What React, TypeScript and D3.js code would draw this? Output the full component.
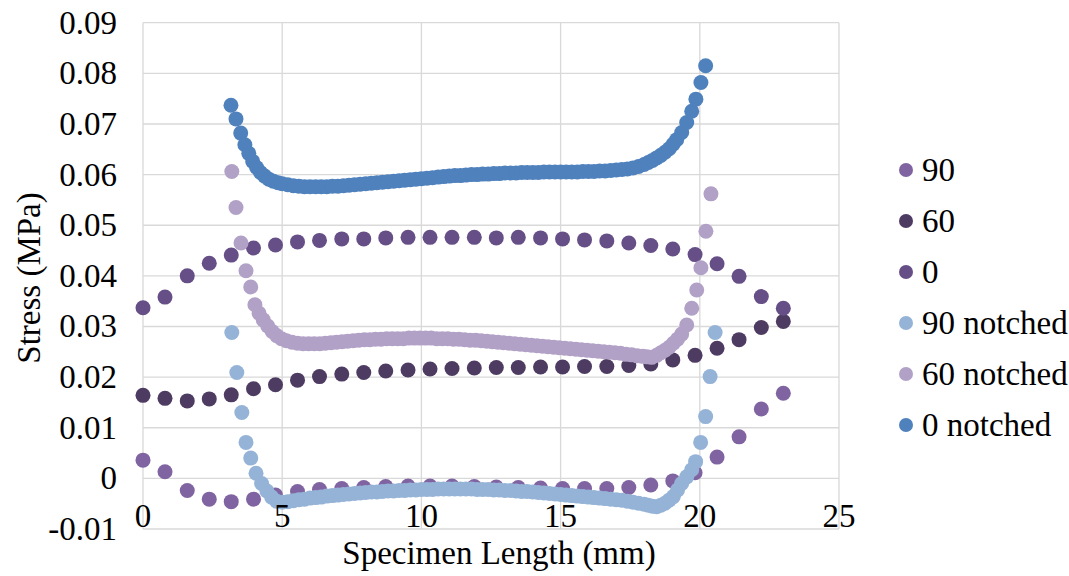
import React from "react";
import * as d3 from "d3";

// Shared x positions of the three un-notched series (mm)
const xPlain = [0, 0.79, 1.59, 2.38, 3.17, 3.97, 4.76, 5.55, 6.34, 7.14, 7.93, 8.72, 9.52, 10.31, 11.1, 11.9, 12.69, 13.48, 14.28, 15.07, 15.86, 16.66, 17.45, 18.24, 19.03, 19.83, 20.62, 21.41, 22.21, 23.0];

const s90 = [0.0036, 0.0013, -0.0024, -0.0041, -0.0046, -0.0041, -0.0033, -0.0026, -0.0022, -0.002, -0.0018, -0.0016, -0.0015, -0.0015, -0.0015, -0.0016, -0.0017, -0.0018, -0.0019, -0.002, -0.002, -0.002, -0.0018, -0.0013, -0.0005, 0.0011, 0.0042, 0.0082, 0.0137, 0.0168];
const s60 = [0.0164, 0.0158, 0.0153, 0.0157, 0.0165, 0.0177, 0.0185, 0.0194, 0.0201, 0.0206, 0.0209, 0.0212, 0.0214, 0.0216, 0.0217, 0.0218, 0.0219, 0.0219, 0.022, 0.022, 0.0221, 0.0221, 0.0223, 0.0226, 0.0234, 0.0243, 0.0257, 0.0274, 0.0298, 0.031];
const s0 = [0.0337, 0.0358, 0.04, 0.0425, 0.0441, 0.0455, 0.0461, 0.0467, 0.047, 0.0473, 0.0473, 0.0475, 0.0476, 0.0476, 0.0476, 0.0476, 0.0475, 0.0476, 0.0475, 0.0473, 0.0471, 0.0469, 0.0465, 0.046, 0.0453, 0.0442, 0.0424, 0.0399, 0.0359, 0.0336];

const n90: [number, number][] = [[3.19,0.0288],[3.37,0.0209],[3.55,0.013],[3.7,0.0071],[3.87,0.004],[4.06,0.001],[4.26,-0.001],[4.45,-0.0025],[4.62,-0.0037],[4.8,-0.0045],[5.0,-0.0047],[5.2,-0.0046],[5.4,-0.0044],[5.6,-0.0042],[5.8,-0.0041],[6.0,-0.0039],[6.2,-0.0038],[6.4,-0.0037],[6.6,-0.0035],[6.8,-0.0034],[7.0,-0.0033],[7.2,-0.0032],[7.4,-0.0031],[7.6,-0.003],[7.8,-0.0029],[8.0,-0.0028],[8.2,-0.0027],[8.4,-0.0027],[8.6,-0.0026],[8.8,-0.0025],[9.0,-0.0025],[9.2,-0.0024],[9.4,-0.0024],[9.6,-0.0023],[9.8,-0.0023],[10.0,-0.0022],[10.2,-0.0022],[10.4,-0.0022],[10.6,-0.0021],[10.8,-0.0021],[11.0,-0.0021],[11.2,-0.0021],[11.4,-0.0021],[11.6,-0.0021],[11.8,-0.0021],[12.0,-0.0022],[12.2,-0.0022],[12.4,-0.0022],[12.6,-0.0023],[12.8,-0.0023],[13.0,-0.0024],[13.2,-0.0024],[13.4,-0.0025],[13.6,-0.0026],[13.8,-0.0026],[14.0,-0.0027],[14.2,-0.0028],[14.4,-0.0029],[14.6,-0.003],[14.8,-0.0031],[15.0,-0.0032],[15.2,-0.0033],[15.4,-0.0034],[15.6,-0.0035],[15.8,-0.0036],[16.0,-0.0037],[16.2,-0.0038],[16.4,-0.0039],[16.6,-0.004],[16.8,-0.0041],[17.0,-0.0042],[17.2,-0.0043],[17.4,-0.0045],[17.6,-0.0047],[17.8,-0.0049],[18.0,-0.0051],[18.15,-0.0053],[18.3,-0.0055],[18.45,-0.0056],[18.6,-0.0053],[18.75,-0.0049],[18.9,-0.0043],[19.05,-0.0036],[19.2,-0.0023],[19.35,-0.001],[19.53,0.0003],[19.71,0.0017],[19.85,0.0033],[20.03,0.0071],[20.21,0.0122],[20.37,0.0201],[20.55,0.0288]];

const n60: [number, number][] = [[3.19,0.0606],[3.34,0.0535],[3.52,0.0465],[3.7,0.041],[3.87,0.0378],[4.02,0.0343],[4.17,0.0326],[4.32,0.0313],[4.48,0.0301],[4.64,0.029],[4.8,0.0282],[4.97,0.0276],[5.15,0.0272],[5.35,0.0269],[5.55,0.0267],[5.75,0.0266],[5.95,0.0266],[6.15,0.0266],[6.35,0.0266],[6.55,0.0267],[6.75,0.0268],[6.95,0.0269],[7.15,0.027],[7.35,0.0271],[7.55,0.0272],[7.75,0.0273],[7.95,0.0274],[8.15,0.0274],[8.35,0.0275],[8.55,0.0275],[8.75,0.0276],[8.95,0.0276],[9.15,0.0276],[9.35,0.0276],[9.55,0.0277],[9.75,0.0277],[9.95,0.0277],[10.15,0.0277],[10.35,0.0277],[10.55,0.0276],[10.75,0.0276],[10.95,0.0276],[11.15,0.0275],[11.35,0.0275],[11.55,0.0274],[11.75,0.0273],[11.95,0.0273],[12.15,0.0272],[12.35,0.0271],[12.55,0.027],[12.75,0.0269],[12.95,0.0268],[13.15,0.0267],[13.35,0.0266],[13.55,0.0265],[13.75,0.0264],[13.95,0.0263],[14.15,0.0262],[14.35,0.0261],[14.55,0.026],[14.75,0.0259],[14.95,0.0258],[15.15,0.0257],[15.35,0.0256],[15.55,0.0255],[15.75,0.0254],[15.95,0.0253],[16.15,0.0252],[16.35,0.0251],[16.55,0.025],[16.75,0.0249],[16.95,0.0248],[17.15,0.0247],[17.35,0.0245],[17.55,0.0244],[17.75,0.0242],[17.95,0.0241],[18.1,0.024],[18.27,0.0239],[18.45,0.0243],[18.6,0.0248],[18.75,0.0253],[18.9,0.0259],[19.05,0.0267],[19.2,0.0275],[19.35,0.0285],[19.53,0.0303],[19.71,0.0336],[19.89,0.0372],[20.04,0.0416],[20.22,0.0488],[20.4,0.0562]];

const n0: [number, number][] = [[3.16,0.0737],[3.34,0.071],[3.51,0.0682],[3.66,0.0659],[3.8,0.0642],[3.94,0.0626],[4.08,0.0614],[4.22,0.0604],[4.37,0.0597],[4.52,0.0591],[4.68,0.0587],[4.85,0.0584],[5.0,0.0582],[5.2,0.058],[5.4,0.0578],[5.6,0.0577],[5.8,0.0576],[6.0,0.0576],[6.2,0.0576],[6.4,0.0576],[6.6,0.0576],[6.8,0.0577],[7.0,0.0577],[7.2,0.0578],[7.4,0.0579],[7.6,0.058],[7.8,0.0581],[8.0,0.0582],[8.2,0.0583],[8.4,0.0584],[8.6,0.0585],[8.8,0.0586],[9.0,0.0587],[9.2,0.0588],[9.4,0.0589],[9.6,0.059],[9.8,0.0591],[10.0,0.0592],[10.2,0.0593],[10.4,0.0594],[10.6,0.0595],[10.8,0.0596],[11.0,0.0597],[11.2,0.0598],[11.4,0.0598],[11.6,0.0599],[11.8,0.06],[12.0,0.06],[12.2,0.0601],[12.4,0.0601],[12.6,0.0602],[12.8,0.0602],[13.0,0.0603],[13.2,0.0603],[13.4,0.0603],[13.6,0.0604],[13.8,0.0604],[14.0,0.0604],[14.2,0.0604],[14.4,0.0605],[14.6,0.0605],[14.8,0.0605],[15.0,0.0605],[15.2,0.0605],[15.4,0.0605],[15.6,0.0605],[15.8,0.0606],[16.0,0.0606],[16.2,0.0606],[16.4,0.0607],[16.6,0.0607],[16.8,0.0608],[17.0,0.0609],[17.2,0.061],[17.4,0.0611],[17.6,0.0613],[17.8,0.0616],[18.0,0.062],[18.15,0.0624],[18.3,0.0628],[18.45,0.0633],[18.6,0.0638],[18.75,0.0644],[18.9,0.0651],[19.04,0.066],[19.17,0.0669],[19.35,0.0683],[19.53,0.0703],[19.71,0.0725],[19.86,0.0749],[20.04,0.0782],[20.21,0.0815]];

const seriesNames = ["90", "60", "0", "90 notched", "60 notched", "0 notched"];
const seriesColors = ["#8064A2", "#4D3B62", "#664E87", "#95B3D7", "#B2A1C7", "#4F81BD"];

const xTicks = [0, 5, 10, 15, 20, 25];
const yTicks = [-0.01, 0, 0.01, 0.02, 0.03, 0.04, 0.05, 0.06, 0.07, 0.08, 0.09];

const xTitle = "Specimen Length (mm)";
const yTitle = "Stress (MPa)";

const FAM = `"Liberation Serif", "Times New Roman", serif`;

export default function App() {
  const W = 1069, H = 576;
  const x = d3.scaleLinear().domain([0, 25]).range([143, 839]);
  const y = d3.scaleLinear().domain([-0.01, 0.09]).range([529, 22.7]);

  const plain = [s90, s60, s0].map((arr) => arr.map((v, i) => [xPlain[i], v] as [number, number]));
  const all: [number, number][][] = [...plain, n90, n60, n0];

  const grid = "#D9D9D9";
  const fmtY = (v: number) => (v === 0 ? "0" : (v < 0 ? "-" : "") + Math.abs(v).toFixed(2));
  const ts = { fontFamily: FAM, fontSize: "33px" };

  return (
    <svg width={W} height={H} style={{ position: "absolute", left: 0, top: 0 }}>
      <rect x={0} y={0} width={W} height={H} fill="#fff" />
      {yTicks.map((t) => (
        <line key={"h" + t} x1={x(0)} x2={x(25)} y1={y(t)} y2={y(t)} stroke={grid} strokeWidth={1.33} />
      ))}
      {xTicks.map((t) => (
        <line key={"v" + t} x1={x(t)} x2={x(t)} y1={y(-0.01)} y2={y(0.09)} stroke={grid} strokeWidth={1.33} />
      ))}
      {all.map((pts, si) => (
        <g key={"s" + si} fill={seriesColors[si]}>
          {pts.map((p, i) => (
            <circle key={i} cx={x(p[0])} cy={y(p[1])} r={7.5} />
          ))}
        </g>
      ))}
      <g style={ts} fill="#000">
        {yTicks.map((t) => (
          <text key={"yl" + t} x={117} y={y(t) + 11} textAnchor="end">
            {fmtY(t)}
          </text>
        ))}
        {xTicks.map((t) => (
          <text key={"xl" + t} x={x(t)} y={527} textAnchor="middle">
            {String(t)}
          </text>
        ))}
        <text x={499} y={564} textAnchor="middle">{xTitle}</text>
        <text transform="translate(40, 278) rotate(-90)" textAnchor="middle">{yTitle}</text>
        {seriesNames.map((n, i) => (
          <g key={"lg" + i}>
            <circle cx={906} cy={170 + i * 51} r={7} fill={seriesColors[i]} />
            <text x={922} y={170 + i * 51 + 11}>{n}</text>
          </g>
        ))}
      </g>
    </svg>
  );
}
